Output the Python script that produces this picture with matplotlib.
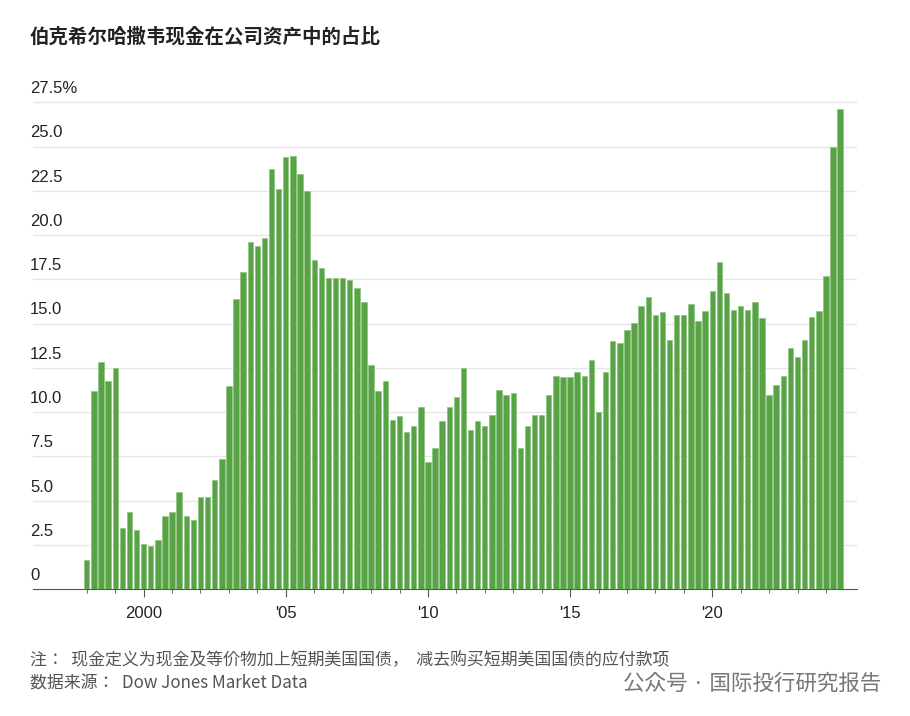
import matplotlib
matplotlib.use("Agg")
import matplotlib.pyplot as plt
from matplotlib import font_manager as fm
import numpy as np

cjk_path = None
for f in fm.findSystemFonts():
    if "NotoSansCJK" in f.replace(" ", "") or "NotoSansSC" in f:
        cjk_path = f
        if "SC" in f or ".ttc" in f:
            break
if cjk_path:
    fm.fontManager.addfont(cjk_path)
    cjk_name = fm.FontProperties(fname=cjk_path).get_name()
else:
    cjk_name = "Noto Sans CJK SC"
plt.rcParams["font.family"] = [cjk_name, "DejaVu Sans"]

start_year = 1998
values = [1.68, 11.18, 12.81, 11.78, 12.51, 3.44, 4.39, 3.37, 2.58, 2.43, 2.77, 4.11,
          4.39, 5.50, 4.11, 3.89, 5.22, 5.22, 6.19, 7.35, 11.48, 16.42, 17.90, 19.60,
          19.37, 19.82, 23.75, 22.61, 24.39, 24.46, 23.43, 22.48, 18.57, 18.12, 17.60, 17.60,
          17.58, 17.45, 17.02, 16.21, 12.66, 11.18, 11.78, 9.56, 9.78, 8.90, 9.20, 10.30,
          7.20, 8.00, 9.48, 10.30, 10.88, 12.51, 8.98, 9.48, 9.20, 9.86, 11.24, 10.96,
          11.11, 8.00, 9.20, 9.86, 9.86, 10.96, 12.06, 11.99, 11.99, 12.29, 12.06, 12.96,
          10.00, 12.29, 14.01, 13.91, 14.64, 15.02, 15.97, 16.50, 15.47, 15.63, 14.08, 15.47,
          15.47, 16.12, 15.17, 15.69, 16.87, 18.50, 16.72, 15.77, 15.97, 15.77, 16.20, 15.32,
          10.96, 11.56, 12.06, 13.62, 13.09, 14.08, 15.39, 15.69, 17.67, 25.00, 27.12]
ytick_vals = [0, 2.5, 5, 7.5, 10, 12.5, 15, 17.5, 20, 22.5, 25, 27.5]
ytick_labels = ["0", "2.5", "5.0", "7.5", "10.0", "12.5", "15.0", "17.5", "20.0", "22.5", "25.0", "27.5%"]
xtick_years = [2000, 2005, 2010, 2015, 2020]
xtick_labels = ["2000", "'05", "'10", "'15", "'20"]

fig = plt.figure(figsize=(9.1, 7.16), dpi=100)
ax = fig.add_axes([0.036, 0.177, 0.906, 0.69])
x = start_year + np.arange(len(values)) / 4
ax.bar(x, values, width=0.19, color="#58a345", edgecolor="#8cc47e", linewidth=0.5, zorder=3)
ax.set_xlim(1996.1, 2025.1)
ax.set_ylim(0, 27.9)
for v, lab in zip(ytick_vals, ytick_labels):
    if v > 0:
        ax.axhline(v, color="#e6e6e6", lw=1, zorder=1)
    ax.text(1996.0, v + 0.35, lab, ha="left", va="bottom", fontsize=12, color="#222222",
            fontfamily="Liberation Sans")
ax.set_yticks([])
for s in ["top", "right", "left"]:
    ax.spines[s].set_visible(False)
ax.spines["bottom"].set_color("#555555")
ax.set_xticks(xtick_years)
ax.set_xticklabels(xtick_labels, fontsize=12, fontfamily="Liberation Sans", color="#222222")
ax.set_xticks(np.arange(1998, 2025), minor=True)
ax.tick_params(axis="x", which="major", length=6, color="#555555", pad=6)
ax.tick_params(axis="x", which="minor", length=3, color="#555555")

fig.text(0.033, 0.94, "伯克希尔哈撒韦现金在公司资产中的占比", fontsize=14, fontweight="bold", color="#222222")
fig.text(0.033, 0.072, "注：  现金定义为现金及等价物加上短期美国国债，  减去购买短期美国国债的应付款项",
         fontsize=12.2, color="#555555")
fig.text(0.033, 0.038, "数据来源：  Dow Jones Market Data", fontsize=12.2, color="#555555")
fig.text(0.968, 0.036, "公众号 · 国际投行研究报告", fontsize=15.5, color="#777777", ha="right")
fig.savefig("out.png", dpi=100, facecolor="white")
